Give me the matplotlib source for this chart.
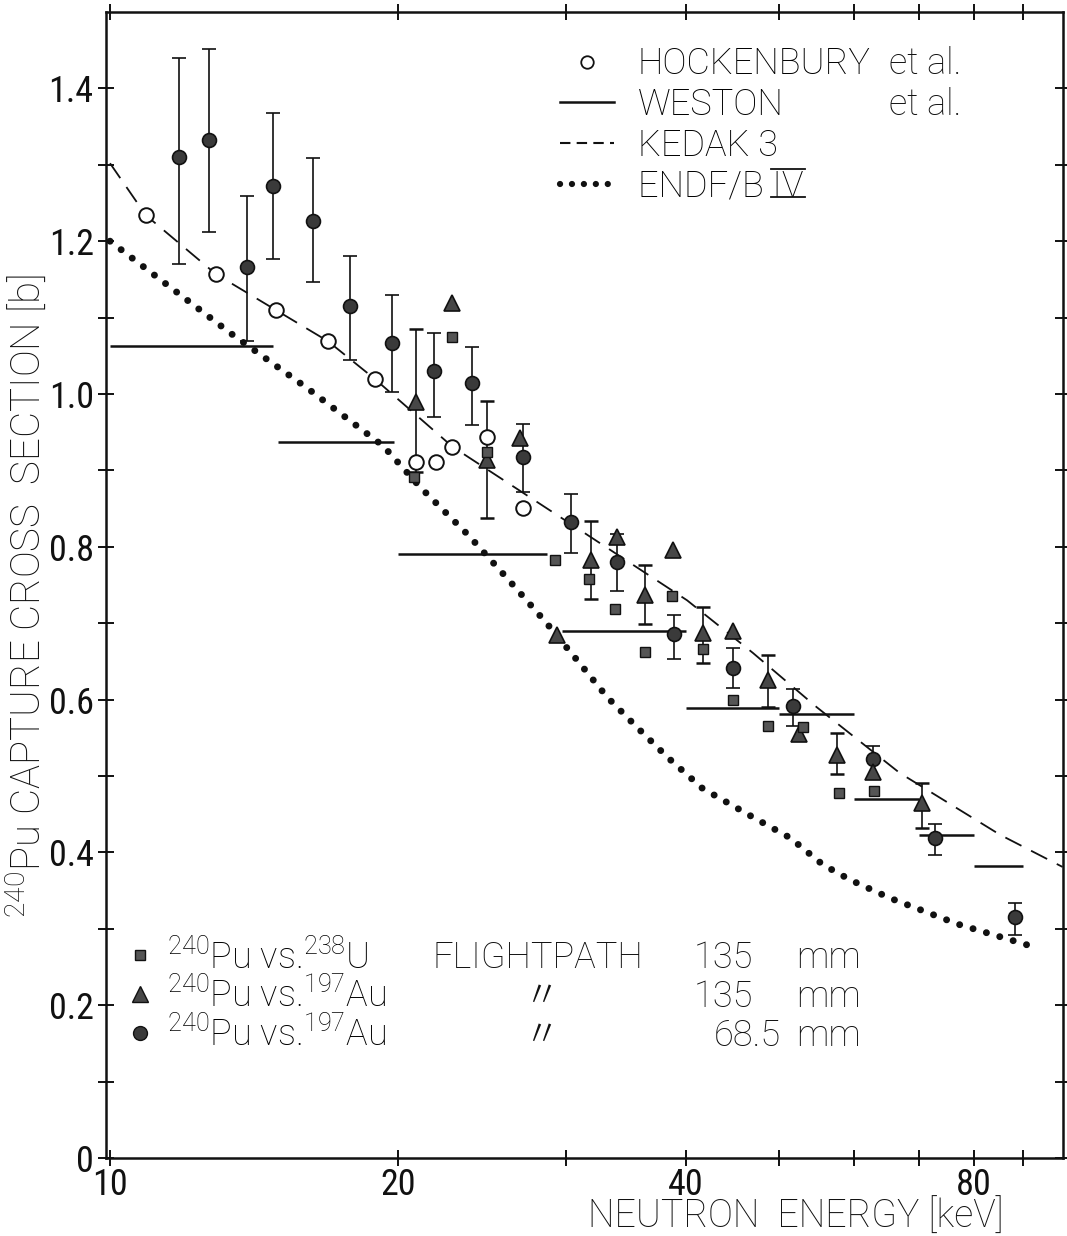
import numpy as np
import matplotlib
matplotlib.use("Agg")
import matplotlib.pyplot as plt
from matplotlib.lines import Line2D
from matplotlib.ticker import NullLocator
from matplotlib import font_manager as fm

# ---------------- data ----------------
# HOCKENBURY et al. (open circles)
E_hock = [10.9, 12.9, 14.9, 16.9, 18.9, 20.9, 21.9, 22.8, 24.8, 27.0]
v_hock = [1.234, 1.157, 1.110, 1.069, 1.020, 0.911, 0.911, 0.931, 0.944, 0.851]

# WESTON et al. (histogram steps)
west_lo = [10.0, 15.0, 20.0, 29.7, 40.0, 50.0, 60.0, 70.0, 80.0]
west_hi = [14.8, 19.8, 28.6, 40.0, 50.0, 60.0, 70.0, 80.0, 90.0]
west_v = [1.063, 0.937, 0.791, 0.690, 0.589, 0.581, 0.470, 0.423, 0.382]

# KEDAK 3 (dashed curve)
E_kedak = [10.0, 10.9, 12.9, 14.9, 16.9, 18.9, 22.8, 30.3, 40.1, 47.0, 54.8, 66.9, 85.2, 99.0]
v_kedak = [1.302, 1.234, 1.157, 1.110, 1.069, 1.020, 0.931, 0.830, 0.730, 0.661, 0.590, 0.504, 0.423, 0.381]

# ENDF/B IV (dotted curve)
E_endf = [10.0, 13.35, 16.1, 19.3, 21.1, 23.7, 26.0, 28.6, 30.9, 33.1, 35.6, 38.3, 41.6,
          47.0, 51.4, 55.6, 59.4, 65.4, 77.0, 88.7, 92.0]
v_endf = [1.200, 1.080, 1.007, 0.932, 0.878, 0.815, 0.759, 0.700, 0.649, 0.603, 0.563, 0.524, 0.484,
          0.446, 0.419, 0.384, 0.364, 0.340, 0.306, 0.283, 0.277]

# 240Pu vs 238U, flight path 135 mm (squares)
E_sq = [20.8, 22.8, 24.8, 29.2, 31.7, 33.7, 36.2, 38.7, 41.7, 44.8, 48.7, 53.0, 57.8, 62.9]
v_sq = [0.891, 1.075, 0.924, 0.783, 0.758, 0.719, 0.662, 0.736, 0.666, 0.599, 0.565, 0.564, 0.478, 0.480]

# 240Pu vs 197Au, flight path 135 mm (triangles); nan = no error bar drawn
E_tri = [20.9, 22.8, 24.8, 26.8, 29.3, 31.8, 33.9, 36.2, 38.8, 41.7, 44.8, 48.7, 52.5, 57.5, 62.7, 70.6]
v_tri = [0.990, 1.119, 0.914, 0.942, 0.685, 0.783, 0.813, 0.737, 0.796, 0.687, 0.690, 0.626, 0.555, 0.527, 0.505, 0.465]
lo_tri = [0.898, np.nan, 0.838, np.nan, np.nan, 0.732, np.nan, 0.699, np.nan, 0.648, np.nan, 0.590, np.nan, 0.503, np.nan, 0.432]
hi_tri = [1.085, np.nan, 0.991, np.nan, np.nan, 0.834, np.nan, 0.776, np.nan, 0.721, np.nan, 0.658, np.nan, 0.556, np.nan, 0.491]

# 240Pu vs 197Au, flight path 68.5 mm (filled circles)
E_68 = [11.8, 12.7, 13.9, 14.8, 16.3, 17.8, 19.7, 21.8, 23.9, 27.0, 30.3, 33.9, 38.9, 44.8, 51.8, 62.7, 72.8, 88.3]
v_68 = [1.310, 1.332, 1.166, 1.272, 1.226, 1.115, 1.067, 1.030, 1.014, 0.918, 0.832, 0.780, 0.686, 0.641, 0.591, 0.522, 0.419, 0.315]
lo_68 = [1.170, 1.212, 1.070, 1.177, 1.147, 1.045, 1.003, 0.970, 0.959, 0.872, 0.792, 0.742, 0.653, 0.615, 0.566, 0.499, 0.397, 0.292]
hi_68 = [1.440, 1.452, 1.259, 1.368, 1.309, 1.181, 1.130, 1.080, 1.062, 0.961, 0.869, 0.817, 0.711, 0.668, 0.614, 0.539, 0.437, 0.334]

x_ticks = [10, 20, 30, 40, 50, 60, 70, 80, 90]
x_ticklabels = ["10", "20", "", "40", "", "", "", "80", ""]
y_ticks = [0.0, 0.1, 0.2, 0.3, 0.4, 0.5, 0.6, 0.7, 0.8, 0.9, 1.0, 1.1, 1.2, 1.3, 1.4]
y_ticklabels = ["0", "", "0.2", "", "0.4", "", "0.6", "", "0.8", "", "1.0", "", "1.2", "", "1.4"]

# ---------------- fonts ----------------
_fonts = fm.fontManager.ttflist
_names = {f.name for f in _fonts}


def _has_light(name):
    return any(f.name == name and f.weight in (300, "light") for f in _fonts)


TXT_FONT = "Roboto" if "Roboto" in _names else "DejaVu Sans"
TXT_W = "light" if _has_light(TXT_FONT) else "normal"
NUM_FONT = "Roboto Condensed" if "Roboto Condensed" in _names else TXT_FONT
NUM_W = "normal"
FS = 26
FS_NUM = 26

plt.rcParams["font.family"] = [TXT_FONT, "Noto Sans CJK JP", "DejaVu Sans"]
plt.rcParams["font.weight"] = TXT_W
plt.rcParams["axes.labelweight"] = TXT_W
plt.rcParams["mathtext.fontset"] = "custom"
_mt = TXT_FONT + (":light" if TXT_W == "light" else "")
plt.rcParams["mathtext.rm"] = _mt
plt.rcParams["mathtext.it"] = _mt
plt.rcParams["mathtext.bf"] = TXT_FONT
plt.rcParams["mathtext.default"] = "regular"
INK = "#111111"

fig = plt.figure(figsize=(10.67, 12.36), dpi=100)
ax = fig.add_axes([0.0992, 0.0631, 0.8966, 0.9272])
ax.set_xscale("log")
ax.set_xlim(9.9, 99)
ax.set_ylim(0, 1.5)

for s in ax.spines.values():
    s.set_linewidth(1.8)
    s.set_color(INK)

tick_kw = dict(fontsize=FS_NUM, fontfamily=[NUM_FONT, "DejaVu Sans"], fontweight=NUM_W, color=INK)
ax.set_xticks(x_ticks, labels=x_ticklabels, **tick_kw)
ax.set_yticks(y_ticks, labels=y_ticklabels, **tick_kw)
ax.xaxis.set_minor_locator(NullLocator())
ax.yaxis.set_minor_locator(NullLocator())
ax.tick_params(which="both", direction="inout", length=11.5, width=1.4, color=INK,
               top=True, right=True, pad=3)
ax.tick_params(axis="x", pad=1.0)

# curves
ax.plot(E_endf, v_endf, color=INK, lw=5.0, linestyle=(0, (0.01, 2.0)),
        dash_capstyle="round", zorder=2)
ax.plot(E_kedak, v_kedak, color=INK, lw=1.3, linestyle=(0, (10, 6)), zorder=2)
ax.hlines(west_v, west_lo, west_hi, color=INK, lw=1.8, zorder=2)

# data points
ax.plot(E_hock, v_hock, "o", ms=10.5, mfc="white", mec=INK, mew=1.4, zorder=5)

v68 = np.array(v_68)
ax.errorbar(E_68, v_68, yerr=[v68 - np.array(lo_68), np.array(hi_68) - v68], fmt="o", ms=10,
            mfc="#3a3a3a", mec=INK, mew=1.2, ecolor=INK, elinewidth=1.2, capsize=5,
            capthick=1.8, zorder=4)

vt = np.array(v_tri)
lt = np.array(lo_tri)
ht = np.array(hi_tri)
m = np.isfinite(lt)
ax.errorbar(np.array(E_tri)[m], vt[m], yerr=[vt[m] - lt[m], ht[m] - vt[m]], fmt="none",
            ecolor=INK, elinewidth=1.2, capsize=5, capthick=1.8, zorder=3)
ax.plot(E_tri, v_tri, "^", ms=11, mfc="#474747", mec=INK, mew=1.2, zorder=5)
ax.plot(E_sq, v_sq, "s", ms=7.5, mfc="#555555", mec=INK, mew=1.0, zorder=5)

# axis labels
ax.set_ylabel(r"$^{240}$Pu CAPTURE CROSS  SECTION [b]", fontsize=29, fontweight=TXT_W,
              va="center", color=INK)
ax.yaxis.set_label_coords(-0.084, 0.49)
ax.set_xlabel("NEUTRON  ENERGY [keV]", fontsize=27, fontweight=TXT_W, ha="right",
              va="bottom", color=INK)
ax.xaxis.set_label_coords(0.938, -0.068)

# legend 1 (upper right)
h1 = Line2D([], [], ls="none", marker="o", ms=9, mfc="white", mec=INK, mew=1.3)
h2 = Line2D([], [], color=INK, lw=1.8)
h3 = Line2D([], [], color=INK, lw=1.5, ls=(0, (5, 3)))
h4 = Line2D([], [], color=INK, lw=4.5, ls=(0, (0.01, 1.9)), dash_capstyle="round")
leg1 = ax.legend([h1, h2, h3, h4], ["HOCKENBURY", "WESTON", "KEDAK 3", "ENDF/B IV"],
                 loc="upper left", bbox_to_anchor=(0.475, 0.970), frameon=False, fontsize=FS,
                 handlelength=1.5, handletextpad=0.65, labelspacing=0.13, borderaxespad=0,
                 borderpad=0)
ax.add_artist(leg1)

# legend 2 (lower left)
g1 = Line2D([], [], ls="none", marker="s", ms=7.5, mfc="#555555", mec=INK)
g2 = Line2D([], [], ls="none", marker="^", ms=11, mfc="#474747", mec=INK)
g3 = Line2D([], [], ls="none", marker="o", ms=10, mfc="#3a3a3a", mec=INK)
leg2 = ax.legend([g1, g2, g3],
                 [r"$^{240}$Pu vs.$^{238}$U", r"$^{240}$Pu vs.$^{197}$Au", r"$^{240}$Pu vs.$^{197}$Au"],
                 loc="upper left", bbox_to_anchor=(0.022, 0.192), frameon=False, fontsize=FS,
                 handlelength=0.75, handletextpad=0.35, labelspacing=0.05, borderaxespad=0,
                 borderpad=0)

fig.canvas.draw()
renderer = fig.canvas.get_renderer()
inv = ax.transAxes.inverted()


def bottom_y(txt):
    bb = txt.get_window_extent(renderer)
    return inv.transform((0, bb.y0))[1], bb


# "et al." column in legend 1
for i in (0, 1):
    yb, _ = bottom_y(leg1.get_texts()[i])
    ax.text(0.819, yb, "et al.", fontsize=FS, va="bottom", ha="left", color=INK,
            transform=ax.transAxes)

# roman numeral bars on "IV"
t4 = leg1.get_texts()[3]
yb, bb = bottom_y(t4)
prop = t4.get_fontproperties()
_, _, lp_d = renderer.get_text_width_height_descent("lp", prop, ismath=False)
w_iv, h_cap, _ = renderer.get_text_width_height_descent("IV", prop, ismath=False)
base = bb.y0 + lp_d
finv = fig.transFigure.inverted()
for yy in (base - 1.0, base + h_cap + 1.0):
    p0 = finv.transform((bb.x1 - w_iv - 1, yy))
    p1 = finv.transform((bb.x1 + 2, yy))
    fig.add_artist(Line2D([p0[0], p1[0]], [p0[1], p1[1]], color=INK, lw=1.3,
                          transform=fig.transFigure))

# flight path columns for legend 2
col_flight = ["FLIGHTPATH", "\u3003", "\u3003"]
col_len = ["135", "135", "68.5"]
for i, t in enumerate(leg2.get_texts()):
    yb, _ = bottom_y(t)
    ax.text(0.341 if i == 0 else 0.436, yb, col_flight[i], fontsize=FS, va="bottom",
            ha="left", color=INK, transform=ax.transAxes)
    if i < 2:
        ax.text(0.615, yb, col_len[i], fontsize=FS, va="bottom", ha="left", color=INK,
                transform=ax.transAxes)
    else:
        ax.text(0.706, yb, col_len[i], fontsize=FS, va="bottom", ha="right", color=INK,
                transform=ax.transAxes)
    ax.text(0.722, yb, "mm", fontsize=FS, va="bottom", ha="left", color=INK,
            transform=ax.transAxes)

fig.savefig("out.png", dpi=100)
